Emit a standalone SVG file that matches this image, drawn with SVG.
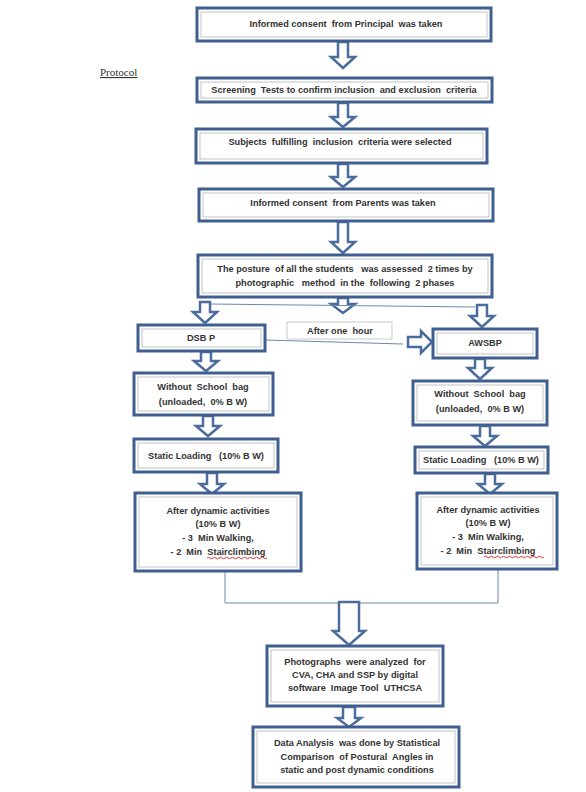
<svg xmlns="http://www.w3.org/2000/svg" width="586" height="792" viewBox="0 0 586 792">
<style>
.box{fill:#fff;stroke:#3e5f8f;stroke-width:3}
.inner{fill:none;stroke:#b4b4b4;stroke-width:0.8}
.t{font-family:"Liberation Sans",Arial,sans-serif;font-size:9.2px;font-weight:bold;fill:#333;text-anchor:middle;white-space:pre}
.arrow{fill:#fff;stroke:#4a6d9d;stroke-width:2.5;stroke-linejoin:miter}
.line{fill:none;stroke:#6f88ad;stroke-width:1}
.squig{fill:none;stroke:#d02020;stroke-width:0.9}
</style>
<rect width="586" height="792" fill="#fff"/>
<text x="100" y="76" font-family="Liberation Serif,'Times New Roman',serif" font-size="11" fill="#333" text-decoration="underline">Protocol</text>

<g id="connectors">
<polygon class="arrow" points="338,42 348,42 348,57 355,57 343,68 331,57 338,57"/>
<polygon class="arrow" points="338,103 348,103 348,117 355,117 343,127 331,117 338,117"/>
<polygon class="arrow" points="338,164 348,164 348,177 355,177 343,187 331,177 338,177"/>
<polygon class="arrow" points="338,222 348,222 348,242 355,242 343,253 331,242 338,242"/>
<polygon class="arrow" points="338,298 348,298 348,304 355,304 343,313 331,304 338,304"/>
<line class="line" x1="210" y1="304" x2="475" y2="307"/>
<polygon class="arrow" points="200,302 210,302 210,312 217,312 205,323 193,312 200,312"/>
<polygon class="arrow" points="477,305 487,305 487,316 494,316 482,327 470,316 477,316"/>
<line class="line" x1="265" y1="340" x2="403" y2="344"/>
<polygon class="arrow" points="408,337 421,337 421,331 432,342 421,353 421,347 408,347"/>
<polygon class="arrow" points="201,352 211,352 211,361 218,361 206,371 194,361 201,361"/>
<polygon class="arrow" points="475,359 485,359 485,368 492,368 480,379 468,368 475,368"/>
<polygon class="arrow" points="203,416 213,416 213,426 220,426 208,436 196,426 203,426"/>
<polygon class="arrow" points="480,426 490,426 490,436 497,436 485,446 473,436 480,436"/>
<polygon class="arrow" points="207,473 217,473 217,484 224,484 212,494 200,484 207,484"/>
<polygon class="arrow" points="485,474 495,474 495,484 502,484 490,494 478,484 485,484"/>
<polyline class="line" points="225,572 225,603 498,603 498,570"/>
<polygon class="arrow" points="339,602 359,602 359,631 365,631 349,645 333,631 339,631"/>
<polygon class="arrow" points="343,707 355,707 355,718 361,718 349,727 337,718 343,718"/>
</g>

<g id="n1">
<rect class="box" x="197" y="8" width="294" height="33"/>
<rect class="inner" x="201" y="12" width="286" height="25"/>
<text class="t" x="346" y="27" xml:space="preserve">Informed consent  from Principal  was taken</text>
</g>
<g id="n2">
<rect class="box" x="197" y="78" width="295" height="24"/>
<rect class="inner" x="201" y="82" width="287" height="16"/>
<text class="t" x="344" y="93" xml:space="preserve">Screening  Tests to confirm inclusion  and exclusion  criteria</text>
</g>
<g id="n3">
<rect class="box" x="196" y="129" width="291" height="34"/>
<rect class="inner" x="200" y="133" width="283" height="26"/>
<text class="t" x="340" y="145" xml:space="preserve">Subjects  fulfilling  inclusion  criteria were selected</text>
</g>
<g id="n4">
<rect class="box" x="199" y="189" width="294" height="32"/>
<rect class="inner" x="203" y="193" width="286" height="24"/>
<text class="t" x="343" y="206" xml:space="preserve">Informed consent  from Parents was taken</text>
</g>
<g id="n5">
<rect class="box" x="198" y="255" width="294" height="42"/>
<rect class="inner" x="202" y="259" width="286" height="34"/>
<text class="t" x="345" y="272" xml:space="preserve">The posture  of all the students   was assessed  2 times by</text>
<text class="t" x="345" y="286" xml:space="preserve">photographic   method  in the  following  2 phases</text>
</g>
<g id="n_hour">
<rect x="287" y="322" width="105" height="17" fill="#fff" stroke="#bdbdbd" stroke-width="0.8"/>
<text class="t" x="340" y="333.5" xml:space="preserve">After one  hour</text>
</g>
<g id="n_dsbp">
<rect class="box" x="138" y="325" width="127" height="26"/>
<rect class="inner" x="142" y="329" width="119" height="18"/>
<text class="t" x="201" y="341">DSB P</text>
</g>
<g id="n_awsbp">
<rect class="box" x="433" y="329" width="104" height="29"/>
<rect class="inner" x="437" y="333" width="96" height="21"/>
<text class="t" x="485" y="346">AWSBP</text>
</g>
<g id="n_l1">
<rect class="box" x="134" y="373" width="139" height="42"/>
<rect class="inner" x="138" y="377" width="131" height="34"/>
<text class="t" x="203" y="390" xml:space="preserve">Without  School  bag</text>
<text class="t" x="203" y="405" xml:space="preserve">(unloaded,  0% B W)</text>
</g>
<g id="n_l2">
<rect class="box" x="134" y="439" width="144" height="33"/>
<rect class="inner" x="138" y="443" width="136" height="25"/>
<text class="t" x="206" y="459" xml:space="preserve">Static Loading   (10% B W)</text>
</g>
<g id="n_l3">
<rect class="box" x="135" y="493" width="166" height="78"/>
<rect class="inner" x="139" y="497" width="158" height="70"/>
<text class="t" x="218" y="514">After dynamic activities</text>
<text class="t" x="218" y="527">(10% B W)</text>
<text class="t" x="218" y="541" xml:space="preserve">- 3  Min Walking,</text>
<text class="t" x="218" y="555" xml:space="preserve">- 2  Min  Stairclimbing</text>
<path class="squig" d="M207,558 q1.5,-1.5 3,0 t3,0 t3,0 t3,0 t3,0 t3,0 t3,0 t3,0 t3,0 t3,0 t3,0 t3,0 t3,0 t3,0 t3,0 t3,0 t3,0 t3,0 t3,0 t3,0"/>
</g>
<g id="n_r1">
<rect class="box" x="413" y="381" width="134" height="44"/>
<rect class="inner" x="417" y="385" width="126" height="36"/>
<text class="t" x="480" y="397" xml:space="preserve">Without  School  bag</text>
<text class="t" x="480" y="412" xml:space="preserve">(unloaded,  0% B W)</text>
</g>
<g id="n_r2">
<rect class="box" x="415" y="447" width="133" height="26"/>
<rect class="inner" x="419" y="451" width="125" height="18"/>
<text class="t" x="481" y="463" xml:space="preserve">Static Loading   (10% B W)</text>
</g>
<g id="n_r3">
<rect class="box" x="417" y="493" width="140" height="76"/>
<rect class="inner" x="421" y="497" width="132" height="68"/>
<text class="t" x="488" y="513">After dynamic activities</text>
<text class="t" x="488" y="526">(10% B W)</text>
<text class="t" x="488" y="540" xml:space="preserve">- 3  Min Walking,</text>
<text class="t" x="488" y="554" xml:space="preserve">- 2  Min  Stairclimbing</text>
<path class="squig" d="M484,557 q1.5,-1.5 3,0 t3,0 t3,0 t3,0 t3,0 t3,0 t3,0 t3,0 t3,0 t3,0 t3,0 t3,0 t3,0 t3,0 t3,0 t3,0 t3,0 t3,0 t3,0 t3,0"/>
</g>
<g id="n_photo">
<rect class="box" x="267" y="646" width="176" height="60"/>
<rect class="inner" x="271" y="650" width="168" height="52"/>
<text class="t" x="355" y="665" xml:space="preserve">Photographs  were analyzed  for</text>
<text class="t" x="355" y="678">CVA, CHA and SSP by digital</text>
<text class="t" x="355" y="691" xml:space="preserve">software  Image Tool  UTHCSA</text>
</g>
<g id="n_data">
<rect class="box" x="253" y="727" width="206" height="60"/>
<rect class="inner" x="257" y="731" width="198" height="52"/>
<text class="t" x="357" y="746" xml:space="preserve">Data Analysis  was done by Statistical</text>
<text class="t" x="357" y="760" xml:space="preserve">Comparison  of Postural  Angles in</text>
<text class="t" x="357" y="773">static and post dynamic conditions</text>
</g>
</svg>
